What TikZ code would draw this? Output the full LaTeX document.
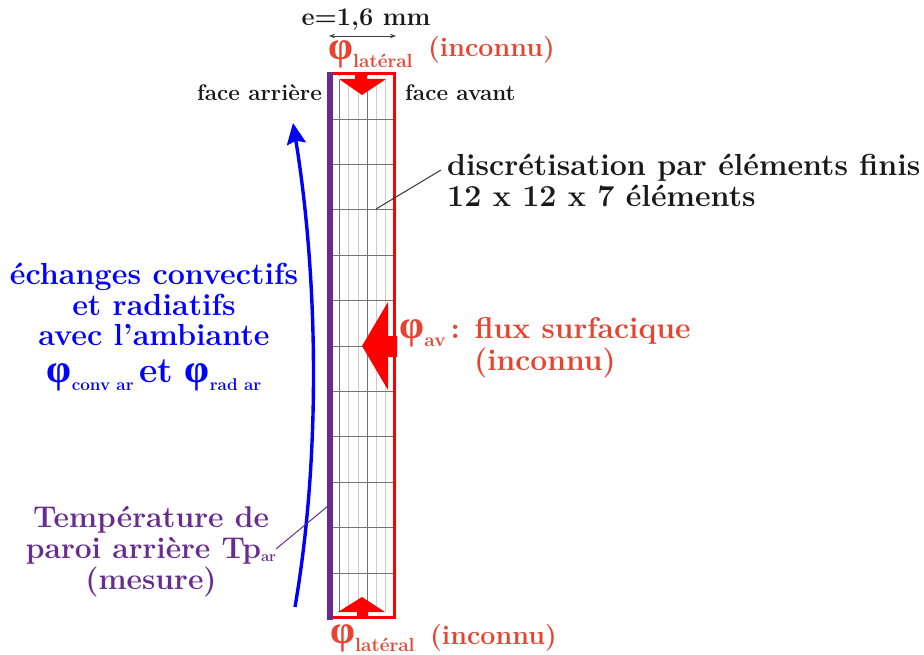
\documentclass[tikz,border=0pt]{standalone}
\usepackage{fontspec}
\usepackage{tikz}
\usetikzlibrary{arrows.meta}
\newfontfamily\phifont{Liberation Serif}
\definecolor{fluxred}{RGB}{232,66,48}
\definecolor{wallpurple}{RGB}{104,44,145}
\newcommand{\fluxsym}[3]{{\phifont\bfseries\fontsize{#1}{#1}\selectfont φ}{\fontsize{#2}{#2}\selectfont\raisebox{-8pt}{#3}}}
\tikzset{
	fluxlabel/.style={text=fluxred, font=\fontsize{26.8}{30}\selectfont\bfseries, align=center, inner sep=0pt},
	blacklabel/.style={text=black!90, font=\fontsize{30.4}{31}\selectfont\bfseries, align=left, inner sep=0pt},
	facelabel/.style={text=black!90, font=\fontsize{22.5}{24}\selectfont\bfseries, inner sep=0pt},
	bluelabel/.style={text=blue, font=\fontsize{30.5}{30.5}\selectfont\bfseries, align=center, inner sep=0pt},
	walllabel/.style={text=wallpurple, font=\fontsize{30}{31}\selectfont\bfseries, align=center, inner sep=0pt},
	meshdark/.style={draw=black!55, line width=0.8pt},
	meshlight/.style={draw=black!20, line width=1pt},
	leader/.style={draw=black!80, line width=1pt},
	fluxarrow/.style={fill=red, draw=none},
}
\begin{document}
\begin{tikzpicture}[x=1pt,y=-1pt]
	\useasboundingbox (0,0) rectangle (924,655);
	% mesh
	\foreach \xm in {348,358,376,385}{\draw[meshlight] (\xm,73)--(\xm,618);}
	\foreach \xm in {339,367}{\draw[meshdark] (\xm,73)--(\xm,618);}
	\foreach \ym in {119,164,209,255,300,346,391,436,482,527,573}{\draw[meshdark] (333,\ym)--(394,\ym);}
	% walls
	\draw[red, line width=3pt] (333,74)--(394,74)--(394,617)--(333,617);
	\fill[wallpurple] (327,72) rectangle (333,620);
	% imposed fluxes
	\fill[white] (339,76) rectangle (386,80);
	\fill[white] (339,612) rectangle (386,616);
	\fill[fluxarrow] (355,74)--(367,74)--(367,79)--(386,79)--(362,95)--(339,79)--(355,79)--cycle;
	\fill[fluxarrow] (357,617)--(368,617)--(368,612)--(385,612)--(362,597)--(338,612)--(357,612)--cycle;
	\fill[fluxarrow] (397,336)--(388,336)--(388,302)--(362,346)--(388,390)--(388,357)--(397,357)--cycle;
	% labels
	\node[facelabel,font=\fontsize{25.4}{25}\selectfont\bfseries] (thick) at (366,20) {e=1,6 mm};
	\coordinate (thickL) at (329,36);
	\coordinate (thickR) at (396,36);
	\draw[{Stealth[length=6pt]}-{Stealth[length=6pt]}, black!75, line width=0.7pt] (thickL)--(thickR);
	\node[fluxlabel,anchor=west] (lattop) at (328,54) {\fluxsym{40}{19}{latéral}};
	\node[fluxlabel,anchor=west] (latinctop) at (428,50) {(inconnu)};
	\node[fluxlabel,anchor=west] (latbot) at (330,638) {\fluxsym{40}{19}{latéral}};
	\node[fluxlabel,anchor=west] (latincbot) at (430,638) {(inconnu)};
	\node[facelabel,anchor=east] (rear) at (322,93) {face arrière};
	\node[facelabel,anchor=west] (front) at (405,93) {face avant};
	\node[blacklabel,anchor=west] (mesh) at (447,180) {discrétisation par éléments finis\\12 x 12 x 7 éléments};
	\coordinate (meshpt) at (376,209);
	\draw[leader] (441,170)--(meshpt);
	\node[fluxlabel,font=\fontsize{30}{31}\selectfont\bfseries] (frontflux) at (545,348) {\fluxsym{40}{19}{av}\,: flux surfacique\\(inconnu)};
	\node[bluelabel] (exch) at (154,327) {échanges convectifs\\et radiatifs\\avec l'ambiante\\[6pt]\fluxsym{40}{17}{conv ar}{\fontsize{35.7}{34}\selectfont\,et} \fluxsym{40}{17}{rad ar}};
	\coordinate (exchS) at (295,607);
	\coordinate (exchN) at (293,123);
	\draw[-{Stealth[length=21pt,width=19pt,inset=3pt]}, blue, line width=3.4pt] (exchS) .. controls (322,450) and (317,270) .. (exchN);
	\node[walllabel] (temp) at (151,552) {Température de\\paroi arrière Tp\raisebox{-3pt}{\fontsize{15}{15}\selectfont ar}\\(mesure)};
	\coordinate (wallpt) at (328,506);
	\draw[draw=wallpurple, line width=1pt] (276,549)--(wallpt);
\end{tikzpicture}
\end{document}
